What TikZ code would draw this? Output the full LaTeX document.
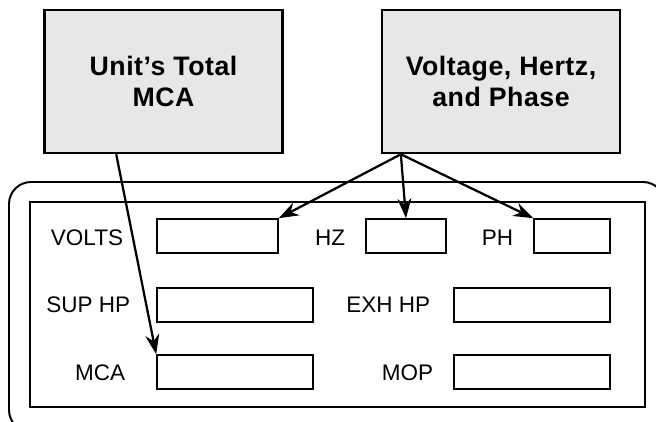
\documentclass[tikz,border=0pt]{standalone}
\usepackage{fontspec}
\setmainfont{Liberation Sans}
\newfontfamily\titlefont[LetterSpace=2]{Liberation Sans Bold}
\usetikzlibrary{arrows.meta}
\definecolor{boxgray}{RGB}{230,231,232}
\tikzset{
	topbox/.style={draw,line width=1.8pt,fill=boxgray,minimum width=5.95cm,minimum height=3.575cm,align=center,font=\titlefont\fontsize{19}{22.5}\selectfont},
	field/.style={draw,line width=1.2pt,minimum height=0.85cm},
	lbl/.style={anchor=east,font=\fontsize{16}{19}\selectfont},
	feed/.style={line width=1.6pt,-{Stealth[length=14pt,width=10pt]}}
}

\begin{document}
\begin{tikzpicture}
	\useasboundingbox (0,0) rectangle (16.4,10.525);
	\clip (0,0) rectangle (16.4,10.525);
	\node at (4.0875,8.4875)[topbox] (unit) {Unit’s Total\\MCA};
	\node at (12.525,8.4875)[topbox] (vhp) {Voltage, Hertz,\\and Phase};
	\draw[line width=1.4pt,rounded corners=0.55cm] (0.225,5.975) rectangle (16.625,-0.275);
	\draw[line width=1pt] (0.75,5.475) rectangle (16.125,0.35);
	\node at (5.4375,4.625)[field,minimum width=3.025cm] (volts) {};
	\node at (10.15,4.625)[field,minimum width=2cm] (hz) {};
	\node at (14.3,4.625)[field,minimum width=1.9cm] (ph) {};
	\node at (5.875,2.9)[field,minimum width=3.9cm] (sup) {};
	\node at (13.3,2.9)[field,minimum width=3.9cm] (exh) {};
	\node at (5.875,1.225)[field,minimum width=3.9cm] (mca) {};
	\node at (13.3,1.225)[field,minimum width=3.9cm] (mop) {};
	\node at (3.2,4.575)[lbl] (voltslbl) {VOLTS};
	\node at (8.75,4.575)[lbl] (hzlbl) {HZ};
	\node at (12.95,4.575)[lbl] (phlbl) {PH};
	\node at (3.375,2.9)[lbl] (suplbl) {SUP HP};
	\node at (10.875,2.9)[lbl] (exhlbl) {EXH HP};
	\node at (3.25,1.2)[lbl] (mcalbl) {MCA};
	\node at (10.95,1.2)[lbl] (moplbl) {MOP};
	\draw[feed] (unit.237.5) -- (mca.north west);
	\draw[feed] (vhp.216.7) -- (volts.north east);
	\draw[feed] (vhp.216.7) -- (hz.north);
	\draw[feed] (vhp.216.7) -- (ph.north west);
\end{tikzpicture}
\end{document}
